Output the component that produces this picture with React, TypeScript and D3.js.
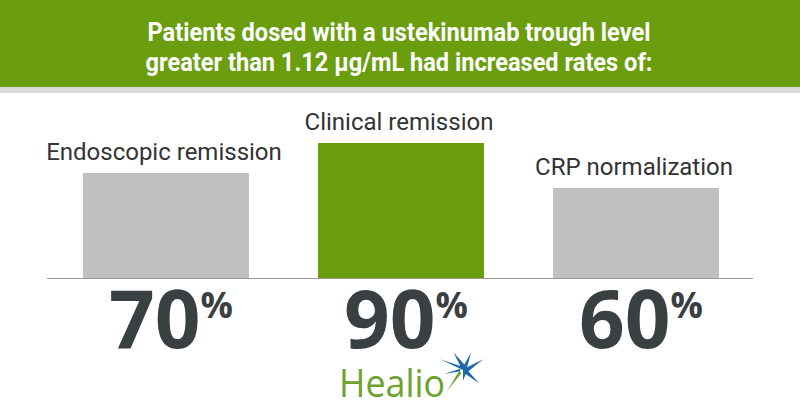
import React from "react";
import * as d3 from "d3";

const categories = ["Endoscopic remission", "Clinical remission", "CRP normalization"];
const values = [70, 90, 60];
const highlight = [false, true, false];
const titleLines = [
  "Patients dosed with a ustekinumab trough level",
  "greater than 1.12 μg/mL had increased rates of:",
];

const W = 800;
const H = 420;

export default function App() {
  const x = d3
    .scaleBand<string>()
    .domain(categories)
    .range([48, 754])
    .paddingInner(0.294)
    .paddingOuter(0.149);
  const y = d3.scaleLinear().domain([0, 100]).range([278, 128]);
  const green = "#6a9e0f";
  const grey = "#c0c0c0";
  return (
    <svg width={W} height={H} style={{ position: "absolute", left: 0, top: 0 }}>
      <rect x={0} y={0} width={W} height={H} fill="#ffffff" />
      <rect x={0} y={0} width={W} height={87} fill={green} />
      <rect x={0} y={87} width={W} height={6} fill="#dcdcdc" />
      {titleLines.map((t, i) => (
        <text
          key={i}
          x={W / 2 - 1}
          y={41 + i * 30}
          textAnchor="middle"
          fill="#ffffff"
          fontFamily="Roboto, sans-serif"
          fontWeight={700}
          fontSize={25}
          textLength={i === 0 ? 503 : 507}
          lengthAdjust="spacingAndGlyphs"
        >
          {t}
        </text>
      ))}
      {categories.map((c, i) => {
        const bx = x(c)!;
        const bw = x.bandwidth();
        const cx = bx + bw / 2;
        return (
          <g key={c}>
            <rect x={bx} y={y(values[i])} width={bw} height={y(0) - y(values[i])} fill={highlight[i] ? green : grey} />
            <text
              x={cx - 2}
              y={y(values[i]) - 13}
              textAnchor="middle"
              fill="#333333"
              fontFamily="Roboto, sans-serif"
              fontSize={24}
            >
              {c}
            </text>
            <text
              x={cx + 5}
              y={348}
              textAnchor="middle"
              fill="#3a3f41"
              fontFamily="'Open Sans', sans-serif"
              fontWeight={700}
            >
              <tspan fontSize={80}>{values[i]}</tspan>
              <tspan fontSize={36} dy={-30}>%</tspan>
            </text>
          </g>
        );
      })}
      <line x1={47} x2={753} y1={y(0) + 0.5} y2={y(0) + 0.5} stroke="#9a9a9a" strokeWidth={1} />
      <text x={339} y={397} fill="#6ea22e" fontFamily="'Open Sans', sans-serif" fontSize={38} textLength={106} lengthAdjust="spacingAndGlyphs">
        Healio
      </text>
      <g transform="translate(463,370) scale(1.35)">
        <path d="M0,0 L-17,-8 L-2,-3 L-7,-13 L1,-4 L6,-13 L3,-2 L15,-8 L4,1 L12,10 L2,3 L0,8 Z" fill="#1f68a8" />
        <path d="M-1,2 L-12,16 L-3,1 Z" fill="#6ea22e" />
        <path d="M-2,1 L-14,3 L-2,-1 Z" fill="#1f68a8" />
      </g>
    </svg>
  );
}
